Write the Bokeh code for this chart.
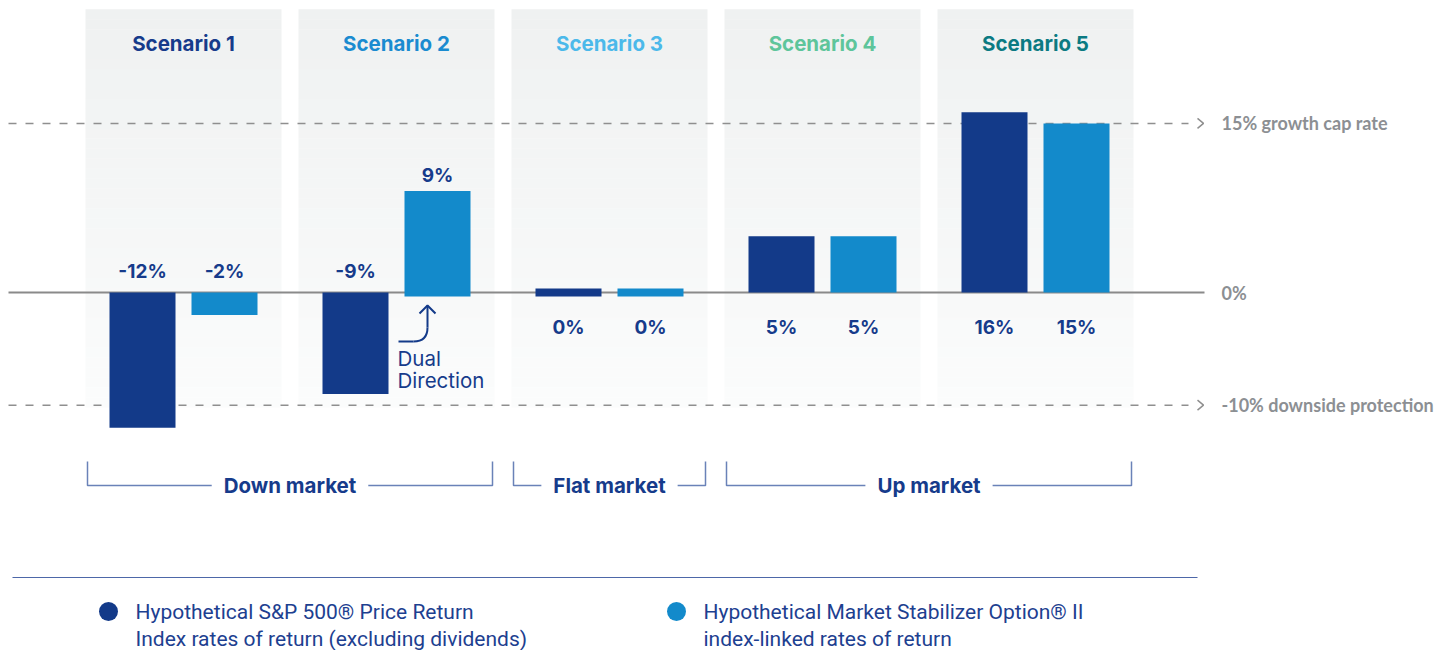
import numpy as np
from bokeh.plotting import figure
from bokeh.models import Range1d
from bokeh.core.properties import value
from bokeh.embed import file_html
from bokeh.resources import INLINE

# ---------------- data ----------------
scenarios = ["Scenario 1", "Scenario 2", "Scenario 3", "Scenario 4", "Scenario 5"]
scenario_colors = ["#163b8b", "#1a8bd0", "#4bb9ea", "#5ec59b", "#0b7a82"]
sp500 = [-12, -9, 0, 5, 16]
mso = [-2, 9, 0, 5, 15]
sp500_labels = ["-12%", "-9%", "0%", "5%", "16%"]
mso_labels = ["-2%", "9%", "0%", "5%", "15%"]
cap_rate = 15
floor_rate = -10
ref_labels = ["15% growth cap rate", "0%", "-10% downside protection"]
ref_values = [cap_rate, 0, floor_rate]
markets = ["Down market", "Flat market", "Up market"]
market_first = [0, 2, 3]
market_last = [1, 2, 4]
dual_direction_scenario = 1
legend_labels = [["Hypothetical S&P 500\u00ae Price Return", "Index rates of return (excluding dividends)"],
                 ["Hypothetical Market Stabilizer Option\u00ae II", "index-linked rates of return"]]

DARK = "#133a89"
LIGHT = "#138acb"
NAVY_TXT = "#163b8b"
GRAY = "#8c8f93"

# ---------------- layout helpers (pixel -> data) ----------------
W, H = 1445, 650
PX = 213.0      # px per scenario
PY = 11.27      # px per percent
X0 = -183 / PX
Y_TOP = 292 / PY
x_range = Range1d(X0, X0 + W / PX)
y_range = Range1d(Y_TOP - H / PY, Y_TOP)

def X(ref):
    return ref / PX + X0

def Y(ref):
    return (292 - ref) / PY

p = figure(width=W, height=H, x_range=x_range, y_range=y_range,
           output_backend="svg", toolbar_location=None, min_border=0,
           x_axis_location=None, y_axis_location=None)
p.grid.visible = False
p.outline_line_color = None
p.background_fill_color = "white"
p.border_fill_color = "white"

idx = np.arange(len(scenarios))
half_panel = 98 / PX
bar_off = 41 / PX
bar_w = 66 / PX

# ---------------- panels with vertical fade ----------------
n_strips = 40
ptop, pbot = Y(9), Y(407)
edges = np.linspace(ptop, pbot, n_strips + 1)
c_top = np.array([239, 241, 241])
c_bot = np.array([251, 252, 252])
ql, qr, qt, qb, qc = [], [], [], [], []
for i in idx:
    for k in range(n_strips):
        t = k / (n_strips - 1)
        c = (c_top * (1 - t) + c_bot * t).round().astype(int)
        ql.append(i - half_panel); qr.append(i + half_panel)
        qt.append(edges[k] + 0.02); qb.append(edges[k + 1])
        qc.append("#%02x%02x%02x" % tuple(c))
p.quad(left=ql, right=qr, top=qt, bottom=qb, fill_color=qc, line_color=None)

# ---------------- scenario headers ----------------
p.text(x=idx, y=[Y(43)] * len(idx), text=scenarios, text_color=scenario_colors,
       text_font=value("Inter"), text_font_style="bold", text_font_size="20.5px",
       text_align="center", text_baseline="middle")

# ---------------- reference lines ----------------
xl_start = X(8)
xl_dash_end = X(1188)
p.segment(x0=[xl_start] * 2, y0=[cap_rate, floor_rate], x1=[xl_dash_end] * 2, y1=[cap_rate, floor_rate],
          line_color="#8f8f8f", line_width=1.6, line_dash="8 9")
chev_x = [[X(1197), X(1203), X(1197)]] * 2
chev_y = [[v + 5 / PY, v, v - 5 / PY] for v in (cap_rate, floor_rate)]
p.multi_line(xs=chev_x, ys=chev_y, line_color="#8f8f8f", line_width=1.5)
p.segment(x0=[xl_start], y0=[0], x1=[X(1204)], y1=[0], line_color="#8a8a8a", line_width=2)
p.text(x=[X(1221)] * 3, y=ref_values, text=ref_labels, text_color=GRAY,
       text_font=value("Lato"), text_font_style="bold", text_font_size="18px",
       text_align="left", text_baseline="middle")

# ---------------- bars ----------------
min_h = 0.36
def bar_extent(vals, dual=None):
    tops, bots = [], []
    for i, v in enumerate(vals):
        if v == 0:
            tops.append(min_h); bots.append(-min_h)
        elif v > 0:
            tops.append(v); bots.append(-min_h if i == dual else 0)
        else:
            tops.append(0); bots.append(v)
    return tops, bots

t1, b1 = bar_extent(sp500)
t2, b2 = bar_extent(mso, dual=dual_direction_scenario)
p.quad(left=idx - bar_off - bar_w / 2, right=idx - bar_off + bar_w / 2, top=t1, bottom=b1,
       fill_color=DARK, line_color=None)
p.quad(left=idx + bar_off - bar_w / 2, right=idx + bar_off + bar_w / 2, top=t2, bottom=b2,
       fill_color=LIGHT, line_color=None)

# ---------------- value labels ----------------
def label_y(vals, dual=None):
    out = []
    for i, v in enumerate(vals):
        if v < 0:
            out.append(21 / PY)
        elif i == dual:
            out.append(v + 16 / PY)
        else:
            out.append(-35 / PY)
    return out

p.text(x=idx - bar_off, y=label_y(sp500), text=sp500_labels, text_color=NAVY_TXT,
       text_font=value("Inter"), text_font_style="bold", text_font_size="19px",
       text_align="center", text_baseline="middle")
p.text(x=idx + bar_off, y=label_y(mso, dual_direction_scenario), text=mso_labels, text_color=NAVY_TXT,
       text_font=value("Inter"), text_font_style="bold", text_font_size="19px",
       text_align="center", text_baseline="middle")

# ---------------- dual direction annotation ----------------
ax = X(427)
p.segment(x0=[X(398)], y0=[Y(341)], x1=[X(413)], y1=[Y(341)], line_color=DARK, line_width=2)
p.quadratic(x0=[X(413)], y0=[Y(341)], x1=[ax], y1=[Y(327)], cx=[ax], cy=[Y(341)],
            line_color=DARK, line_width=2)
p.segment(x0=[ax], y0=[Y(327)], x1=[ax], y1=[Y(305)], line_color=DARK, line_width=2)
p.multi_line(xs=[[X(419), ax, X(435)]], ys=[[Y(313), Y(305), Y(313)]], line_color=DARK, line_width=2)
p.text(x=[X(397)] * 2, y=[Y(358), Y(380)], text=["Dual", "Direction"], text_color=NAVY_TXT,
       text_font=value("Inter"), text_font_style="normal", text_font_size="20.5px",
       text_align="left", text_baseline="middle")

# ---------------- market brackets ----------------
BR = "#6a82b8"
yb_top, yb = Y(461), Y(485)
for f, l, name in zip(market_first, market_last, markets):
    xl_ = f - half_panel + 2 / PX
    xr_ = l + half_panel - 2 / PX
    xc = (xl_ + xr_) / 2
    p.multi_line(xs=[[xl_, xl_, xr_, xr_]], ys=[[yb_top, yb, yb, yb_top]], line_color=BR, line_width=1.5)
    p.text(x=[xc], y=[yb], text=[name], text_color=NAVY_TXT,
           text_font=value("Inter"), text_font_style="bold", text_font_size="20.5px",
           text_align="center", text_baseline="middle",
           background_fill_color="white", padding=12)

# ---------------- divider and legend ----------------
p.segment(x0=[X(12)], y0=[Y(577)], x1=[X(1197)], y1=[Y(577)], line_color="#4d67a8", line_width=1.2)
leg_x = [X(108), X(676)]
p.scatter(x=leg_x, y=[Y(611)] * 2, size=19, fill_color=[DARK, LIGHT], line_color=None)
for lx, lines in zip([X(135), X(703)], legend_labels):
    p.text(x=[lx] * 2, y=[Y(611), Y(638)], text=lines, text_color="#1d4090",
           text_font=value("Roboto"), text_font_size="21px",
           text_align="left", text_baseline="middle")

open("out.html", "w").write(file_html(p, INLINE))
